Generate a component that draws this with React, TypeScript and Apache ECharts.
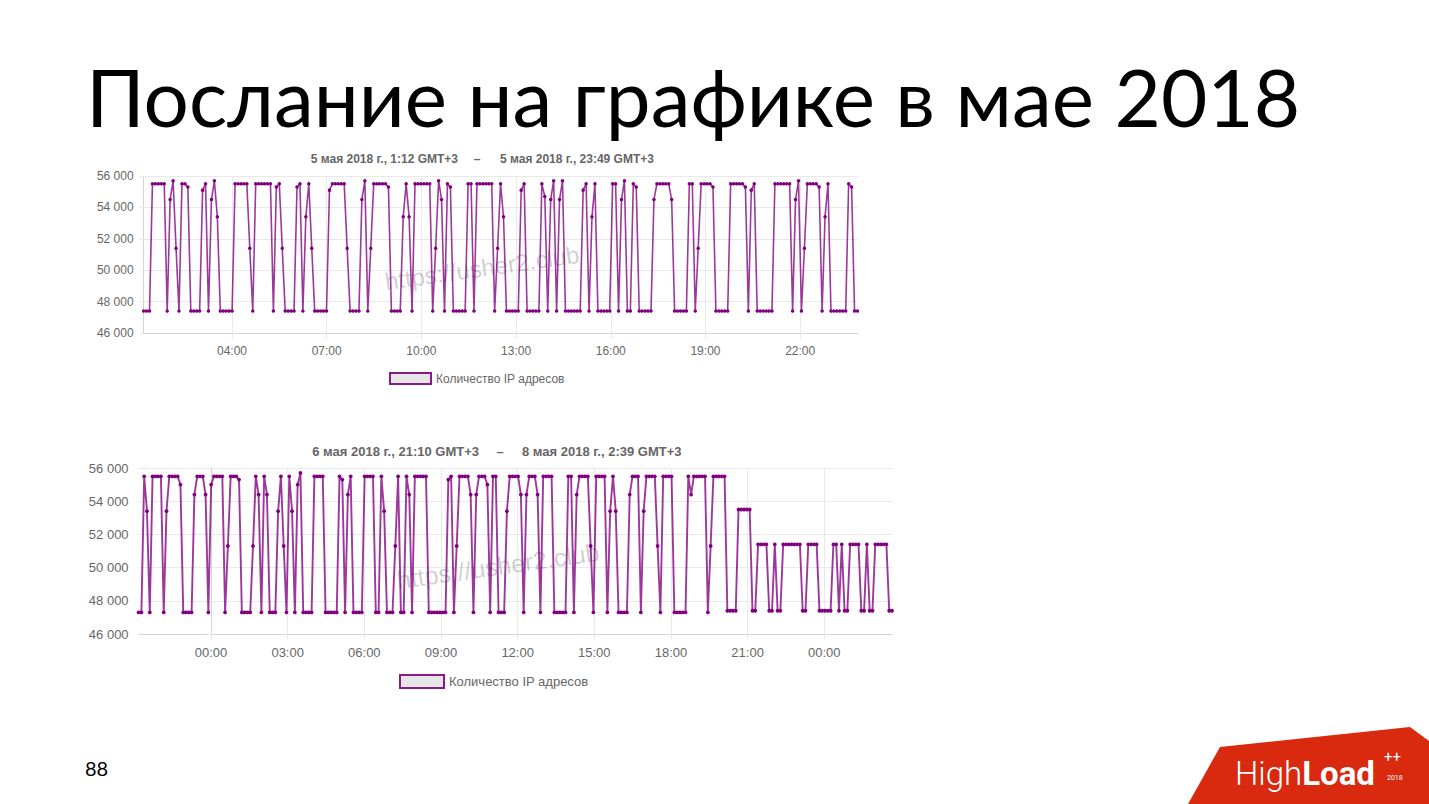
import { useEffect, useRef } from "react";
import * as echarts from "echarts";

const slideTitle = "Послание на графике в мае 2018";
const pageNumber = "88";
const seriesName = "Количество IP адресов";
const watermarkText = "https://usher2.club";

const chart1Range = ["5 мая 2018 г., 1:12 GMT+3", "5 мая 2018 г., 23:49 GMT+3"];
const chart2Range = ["6 мая 2018 г., 21:10 GMT+3", "8 мая 2018 г., 2:39 GMT+3"];

// first / last sample; day is relative to the axis' base day (5 May for chart 1, 7 May for chart 2)
const chart1Start = { day: 0, time: "01:12" };
const chart1End = { day: 0, time: "23:49" };
const chart2Start = { day: -1, time: "21:10" };
const chart2End = { day: 1, time: "02:39" };

const chart1Ticks = [
  { day: 0, time: "04:00" }, { day: 0, time: "07:00" }, { day: 0, time: "10:00" },
  { day: 0, time: "13:00" }, { day: 0, time: "16:00" }, { day: 0, time: "19:00" },
  { day: 0, time: "22:00" },
];
const chart2Ticks = [
  { day: 0, time: "00:00" }, { day: 0, time: "03:00" }, { day: 0, time: "06:00" },
  { day: 0, time: "09:00" }, { day: 0, time: "12:00" }, { day: 0, time: "15:00" },
  { day: 0, time: "18:00" }, { day: 0, time: "21:00" }, { day: 1, time: "00:00" },
];

const yMin = 46000;
const yMax = 56000;
const yStep = 2000;

// evenly spaced samples between chart1Start and chart1End
const chart1Values = [
  47400, 47400, 47400,
  55500, 55500, 55500, 55500, 55500,
  47400, 54500, 55700, 51400, 47400,
  55500, 55500, 55300,
  47400, 47400, 47400, 47400,
  55100, 55500, 47400, 54500, 55700, 53400,
  47400, 47400, 47400, 47400, 47400,
  55500, 55500, 55500, 55500, 55500,
  51400, 47400,
  55500, 55500, 55500, 55500, 55500, 55500,
  47400, 55300, 55500, 51400,
  47400, 47400, 47400, 47400,
  55300, 55500, 47400, 53400, 55500, 51400,
  47400, 47400, 47400, 47400, 47400,
  55100,
  55500, 55500, 55500, 55500, 55500,
  51400,
  47400, 47400, 47400, 47400,
  54500, 55700, 47400, 51400,
  55500, 55500, 55500, 55500, 55500,
  55300,
  47400, 47400, 47400, 47400,
  53400, 55500, 53400, 47400,
  55500, 55500, 55500, 55500, 55500, 55500,
  47400, 51400, 55700, 54500, 47400, 55500, 55300,
  47400, 47400, 47400, 47400, 47400,
  55500, 55500, 47400,
  55500, 55500, 55500, 55500, 55500, 55500,
  47400, 51400, 55500, 53400,
  47400, 47400, 47400, 47400, 47400,
  55100, 55500,
  47400, 47400, 47400, 47400, 47400,
  55500, 54700, 47400, 54500, 55700, 47400, 54500, 55700,
  47400, 47400, 47400, 47400, 47400, 47400,
  55100, 55500, 47400, 53400, 55500,
  47400, 47400, 47400, 47400, 47400,
  55500, 55500, 47400, 54500, 55700, 47400, 47400, 55500, 55300,
  47400, 47400, 47400, 47400, 47400,
  54500,
  55500, 55500, 55500, 55500, 55500,
  54500,
  47400, 47400, 47400, 47400, 47400,
  55500, 55500, 47400, 51400,
  55500, 55500, 55500, 55500, 55300,
  47400, 47400, 47400, 47400, 47400,
  55500, 55500, 55500, 55500, 55500,
  55300, 47400, 55100, 55500,
  47400, 47400, 47400, 47400, 47400, 47400,
  55500, 55500, 55500, 55500, 55500, 55500,
  47400, 54500, 55700, 47400, 51400,
  55500, 55500, 55500, 55500, 55300,
  47400, 53400, 55500,
  47400, 47400, 47400, 47400, 47400, 47400,
  55500, 55300, 47400, 47400,
];

// evenly spaced samples between chart2Start and chart2End
const chart2Values = [
  47300, 47300, 55500, 53400, 47300,
  55500, 55500, 55500, 55500,
  47300, 53400,
  55500, 55500, 55500, 55500,
  55000,
  47300, 47300, 47300, 47300,
  54400, 55500, 55500, 55500, 54400,
  47300, 55000,
  55500, 55500, 55500, 55500,
  47300, 51300,
  55500, 55500, 55500, 55300,
  47300, 47300, 47300, 47300,
  51300, 55500, 54400, 47300, 55500, 54400,
  47300, 47300, 47300,
  53400, 55500, 51300, 47300, 55500, 53400, 47300, 55000, 55700,
  47300, 47300, 47300, 47300,
  55500, 55500, 55500, 55500,
  47300, 47300, 47300, 47300, 47300,
  55500, 55300, 47300, 54400, 55500,
  47300, 47300, 47300, 47300,
  55500, 55500, 55500, 55500,
  47300, 47300, 55500, 53400,
  47300, 47300, 47300,
  51300, 55500, 47300, 47300, 55500, 54400, 47300,
  55500, 55500, 55500, 55500, 55500,
  47300, 47300, 47300, 47300, 47300, 47300, 47300,
  55300, 55500, 47300, 51300,
  55500, 55500, 55500, 55500,
  54400, 47300, 54400,
  55500, 55500, 55500,
  55000, 47300, 55500, 55500,
  47300, 47300, 47300,
  53400,
  55500, 55500, 55500, 55500,
  54400, 47300, 54400,
  55500, 55500, 55500,
  54400, 47300,
  55500, 55500, 55500, 55500,
  47300, 47300, 47300, 47300, 47300,
  55500, 55500, 47300, 54400,
  55500, 55500, 55500, 55500,
  51300, 47300,
  55500, 55500, 55500, 55500,
  47300, 53400, 55500, 53400,
  47300, 47300, 47300, 47300,
  54400, 55500, 55500, 55500,
  47300, 53400,
  55500, 55500, 55500, 55500,
  51300, 47300,
  55500, 55500, 55500, 55500,
  47300, 47300, 47300, 47300, 47300,
  55500, 54400,
  55500, 55500, 55500, 55500, 55500,
  47300, 51300,
  55500, 55500, 55500, 55500, 55500,
  47400, 47400, 47400, 47400,
  53500, 53500, 53500, 53500, 53500,
  47400, 47400,
  51400, 51400, 51400, 51400,
  47400, 47400, 51400, 47400, 47400,
  51400, 51400, 51400, 51400, 51400, 51400, 51400,
  47400, 47400,
  51400, 51400, 51400, 51400,
  47400, 47400, 47400, 47400, 47400,
  51400, 51400, 47400, 51400, 47400, 47400,
  51400, 51400, 51400, 51400,
  47400, 47400, 51400, 47400, 47400,
  51400, 51400, 51400, 51400, 51400,
  47400, 47400,
];

type DayTime = { day: number; time: string };
const toHours = (p: DayTime) => {
  const [h, m] = p.time.split(":").map(Number);
  return p.day * 24 + h + m / 60;
};
const pad = (n: number) => (n < 10 ? "0" + n : "" + n);
const hoursLabel = (v: number) => {
  const t = ((v % 24) + 24) % 24;
  let h = Math.floor(t + 1e-6);
  let m = Math.round((t - h) * 60);
  if (m === 60) { h = (h + 1) % 24; m = 0; }
  return pad(h) + ":" + pad(m);
};
const spread = (values: number[], start: DayTime, end: DayTime) => {
  const s = toHours(start);
  const e = toHours(end);
  const step = (e - s) / (values.length - 1);
  return values.map((v, i) => [s + i * step, v]);
};
const yLabel = (v: number) => v / 1000 + " 000";

const PURPLE = "#800080";
const LINE = "rgba(128,0,128,0.78)";
const GRID = "#e9e9e9";
const AXIS = "#d4d4d4";
const TXT = "#666";
const SANS = "'Liberation Sans', Arial, sans-serif";

function buildOption() {
  const t1 = chart1Ticks.map(toHours);
  const t2 = chart2Ticks.map(toHours);

  const xAxisCommon = (ticks: number[], fontSize: number) => ({
    type: "value" as const,
    axisLine: { show: true, lineStyle: { color: AXIS } },
    axisTick: { show: true, customValues: ticks, length: 6, lineStyle: { color: GRID } },
    splitLine: { show: true, lineStyle: { color: GRID } },
    axisLabel: {
      customValues: ticks,
      formatter: hoursLabel,
      color: TXT,
      fontSize,
      fontFamily: SANS,
      margin: 12,
      hideOverlap: false,
    },
  });
  const yAxisCommon = (fontSize: number) => ({
    type: "value" as const,
    min: yMin,
    max: yMax,
    interval: yStep,
    axisLine: { show: true, lineStyle: { color: AXIS } },
    axisTick: { show: true, length: 4, lineStyle: { color: GRID } },
    splitLine: { show: true, lineStyle: { color: GRID } },
    axisLabel: { formatter: yLabel, color: TXT, fontSize, fontFamily: SANS, margin: 10 },
  });

  const legendCommon = {
    data: [seriesName],
    icon: "rect",
    orient: "horizontal" as const,
    padding: 0,
    itemGap: 10,
    itemStyle: { color: "#e6e6e6", borderColor: "#8a1a8a", borderWidth: 2 },
    selectedMode: false,
  };

  const text = (x: number, y: number, t: string, o: any = {}) => ({
    type: "text",
    x,
    y,
    silent: true,
    style: {
      text: t,
      fill: o.fill ?? TXT,
      fontSize: o.fontSize ?? 12,
      fontFamily: o.fontFamily ?? SANS,
      fontWeight: o.fontWeight ?? "normal",
      textAlign: o.align ?? "left",
      textVerticalAlign: "middle",
      opacity: o.opacity ?? 1,
    },
    rotation: o.rotation ?? 0,
    z: o.z ?? 10,
  });

  return {
    animation: false,
    backgroundColor: "#ffffff",
    grid: [
      { left: 143.6, top: 176, width: 713.9, height: 157, containLabel: false },
      { left: 138.6, top: 468, width: 753.4, height: 166, containLabel: false },
    ],
    xAxis: [
      { gridIndex: 0, min: toHours(chart1Start), max: toHours(chart1End), ...xAxisCommon(t1, 12) },
      { gridIndex: 1, min: toHours(chart2Start), max: toHours(chart2End), ...xAxisCommon(t2, 13) },
    ],
    yAxis: [
      { gridIndex: 0, ...yAxisCommon(12) },
      { gridIndex: 1, ...yAxisCommon(13) },
    ],
    legend: [
      {
        ...legendCommon,
        left: 389,
        top: 372,
        itemWidth: 41,
        itemHeight: 11,
        textStyle: { color: TXT, fontSize: 12, fontFamily: SANS },
      },
      {
        ...legendCommon,
        left: 399,
        top: 674,
        itemWidth: 44,
        itemHeight: 13,
        textStyle: { color: TXT, fontSize: 13, fontFamily: SANS },
      },
    ],
    series: [
      {
        name: seriesName,
        type: "line",
        xAxisIndex: 0,
        yAxisIndex: 0,
        data: spread(chart1Values, chart1Start, chart1End),
        symbol: "circle",
        symbolSize: 3.5,
        showAllSymbol: true,
        itemStyle: { color: PURPLE },
        lineStyle: { color: LINE, width: 1.6 },
        z: 5,
      },
      {
        name: seriesName,
        type: "line",
        xAxisIndex: 1,
        yAxisIndex: 1,
        data: spread(chart2Values, chart2Start, chart2End),
        symbol: "circle",
        symbolSize: 3.8,
        showAllSymbol: true,
        itemStyle: { color: PURPLE },
        lineStyle: { color: LINE, width: 1.9 },
        z: 5,
      },
    ],
    graphic: [
      text(86, 96, slideTitle, { fill: "#000", fontSize: 80, fontFamily: "Lato, 'Open Sans', sans-serif" }),
      text(458, 159, chart1Range[0], { fontWeight: "bold", align: "right" }),
      text(477, 159, "–", { fontWeight: "bold", align: "center" }),
      text(500, 159, chart1Range[1], { fontWeight: "bold" }),
      text(479, 451, chart2Range[0], { fontWeight: "bold", fontSize: 13, align: "right" }),
      text(500, 451, "–", { fontWeight: "bold", fontSize: 13, align: "center" }),
      text(522, 451, chart2Range[1], { fontWeight: "bold", fontSize: 13 }),
      text(482, 268, watermarkText, { fill: "rgba(0,0,0,0.2)", fontSize: 24, align: "center", rotation: 0.14, z: 1 }),
      text(498, 566, watermarkText, { fill: "rgba(0,0,0,0.2)", fontSize: 25, align: "center", rotation: 0.14, z: 1 }),
      text(85, 768, pageNumber, { fill: "#000", fontSize: 20, fontFamily: "Lato, sans-serif" }),
      {
        type: "polygon",
        silent: true,
        shape: { points: [[1220, 747], [1410, 727], [1429, 741], [1429, 804], [1188, 804]] },
        style: { fill: "#d9290f" },
        z: 10,
      },
      {
        type: "text",
        x: 1235,
        y: 773,
        silent: true,
        z: 11,
        style: {
          text: "{a|High}{b|Load}",
          textVerticalAlign: "middle",
          rich: {
            a: { fill: "#fff", fontSize: 33, fontWeight: 300, fontFamily: "Roboto, sans-serif" },
            b: { fill: "#fff", fontSize: 33, fontWeight: "bold", fontFamily: "Roboto, sans-serif" },
          },
        },
      },
      text(1384, 757, "++", { fill: "#fff", fontSize: 15, fontFamily: "Roboto, sans-serif", z: 11 }),
      text(1387, 778, "2018", { fill: "#fff", fontSize: 7, fontFamily: "Roboto, sans-serif", z: 11 }),
    ],
  };
}

export default function App() {
  const ref = useRef<HTMLDivElement>(null);
  useEffect(() => {
    if (!ref.current) return;
    const chart = echarts.init(ref.current, undefined, { renderer: "svg" });
    chart.setOption(buildOption() as any);
    return () => chart.dispose();
  }, []);
  return (
    <div
      ref={ref}
      style={{ position: "fixed", left: 0, top: 0, width: 1429, height: 804, background: "#fff" }}
    />
  );
}
